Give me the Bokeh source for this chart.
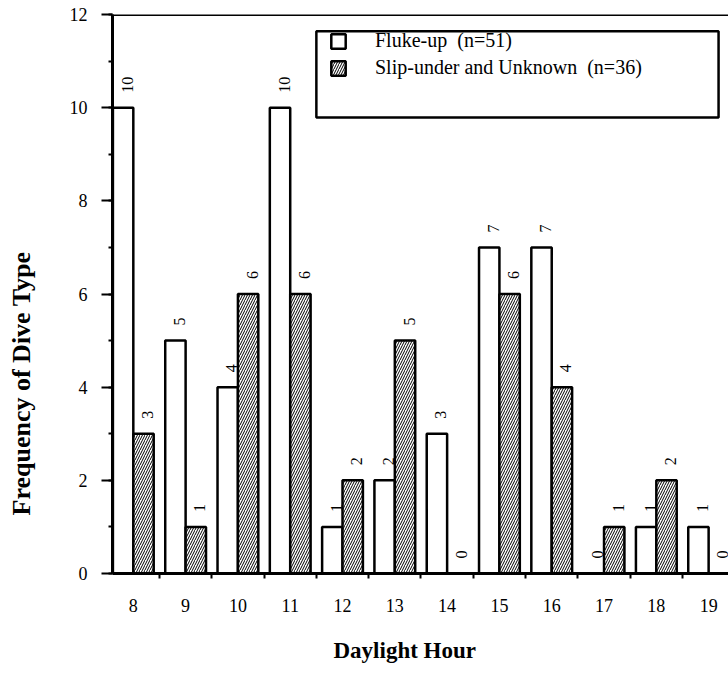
import numpy as np
from bokeh.plotting import figure
from bokeh.models import (ColumnDataSource, FixedTicker, SingleIntervalTicker, Range1d,
                          Span, Title, BoxAnnotation, Legend, LegendItem, LinearAxis)
from bokeh.embed import file_html
from bokeh.resources import INLINE
from bokeh.core.properties import value

# ---- data ----
hours = [8, 9, 10, 11, 12, 13, 14, 15, 16, 17, 18, 19]
fluke_up = [10, 5, 4, 10, 1, 2, 3, 7, 7, 0, 1, 1]
slip_under = [3, 1, 6, 6, 2, 5, 0, 6, 4, 1, 2, 0]
series_names = ["Fluke-up\u00a0 (n=51)", "Slip-under and Unknown\u00a0 (n=36)"]
x_title = "Daylight Hour"
y_title = "Frequency of Dive Type"

SERIF = "Liberation Serif"
BAR_W = 0.39
SHIFT = 0.195

src_f = ColumnDataSource(dict(x=[h - SHIFT for h in hours], top=fluke_up,
                              lbl=[str(v) for v in fluke_up]))
src_s = ColumnDataSource(dict(x=[h + SHIFT for h in hours], top=slip_under,
                              lbl=[str(v) for v in slip_under]))

p = figure(width=728, height=690, x_range=Range1d(7.602, 19.38), y_range=Range1d(0, 12),
           output_backend="svg", toolbar_location=None,
           min_border_left=112, min_border_right=0, min_border_top=14, min_border_bottom=117)
p.outline_line_color = None
p.xgrid.grid_line_color = None
p.ygrid.grid_line_color = None
p.background_fill_color = "white"
p.border_fill_color = "white"

rf = p.vbar(x="x", top="top", bottom=0, width=BAR_W, source=src_f,
            fill_color="white", line_color="black", line_width=2.5)
rs = p.vbar(x="x", top="top", bottom=0, width=BAR_W, source=src_s,
            fill_color="white", line_color="black", line_width=2.5,
            hatch_pattern="/", hatch_color="black", hatch_scale=5, hatch_weight=1)

for src in (src_f, src_s):
    p.text(x="x", y="top", text="lbl", source=src, angle=np.pi / 2,
           text_align="left", text_baseline="middle", y_offset=-15, x_offset=4,
           text_font=value(SERIF), text_font_size="16px", text_color="black")

# x axis
xa = p.xaxis[0]
xa.ticker = FixedTicker(ticks=hours, minor_ticks=[h + 0.5 for h in hours])
xa.axis_line_width = 3
xa.axis_line_color = "black"
xa.major_tick_out = 0
xa.major_tick_in = 0
xa.minor_tick_out = 5
xa.minor_tick_in = 0
xa.minor_tick_line_width = 2
xa.minor_tick_line_color = "black"
xa.major_label_standoff = 20
xa.major_label_text_font = SERIF
xa.major_label_text_font_size = "18px"
xa.major_label_text_color = "black"

# y axis
ya = p.yaxis[0]
ya.ticker = SingleIntervalTicker(interval=2, num_minor_ticks=2)
ya.axis_line_width = 3
ya.axis_line_color = "black"
ya.major_tick_out = 11
ya.major_tick_in = 0
ya.major_tick_line_width = 2
ya.major_tick_line_color = "black"
ya.minor_tick_out = 4
ya.minor_tick_in = 0
ya.minor_tick_line_width = 2
ya.minor_tick_line_color = "black"
ya.major_label_standoff = 14
ya.major_label_text_font = SERIF
ya.major_label_text_font_size = "18px"
ya.major_label_text_color = "black"

# invisible spacer between the y axis and its title
spacer = LinearAxis(ticker=FixedTicker(ticks=[0]), axis_line_color=None,
                    major_tick_line_color=None, minor_tick_line_color=None,
                    major_tick_out=28, major_tick_in=0, minor_tick_out=0,
                    major_label_standoff=0, major_label_overrides={0: ""})
p.add_layout(spacer, "left")

# top border line
p.add_layout(Span(location=12, dimension="width", line_color="black", line_width=3))

# legend box + legend
box = BoxAnnotation(left=11.50, right=19.19, bottom=9.79, top=11.64,
                    fill_color="white", fill_alpha=1, line_color="black",
                    line_width=2.5, line_alpha=1)
p.add_layout(box)
legend = Legend(items=[LegendItem(label=series_names[0], renderers=[rf]),
                       LegendItem(label=series_names[1], renderers=[rs])],
                location=(217, 494), orientation="vertical",
                border_line_color=None, background_fill_alpha=0,
                padding=0, margin=0, spacing=4,
                glyph_width=18, glyph_height=18, label_standoff=28, label_height=22,
                label_text_font=SERIF, label_text_font_size="20px",
                label_text_color="black")
p.add_layout(legend)

# axis titles
p.add_layout(Title(text=y_title, align="left", offset=58, standoff=6,
                   text_font=SERIF, text_font_style="bold", text_font_size="26px",
                   text_color="black"), "left")
p.add_layout(Title(text=x_title, align="left", offset=221, standoff=42,
                   text_font=SERIF, text_font_style="bold", text_font_size="23px",
                   text_color="black"), "below")

open("out.html", "w").write(file_html(p, INLINE))
